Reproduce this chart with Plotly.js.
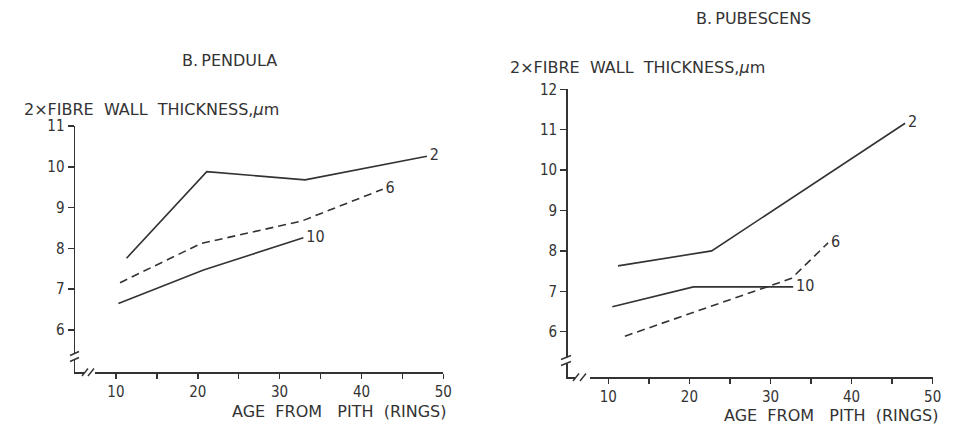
<!DOCTYPE html>
<html>
<head>
<meta charset="utf-8">
<script src="https://cdn.plot.ly/plotly-3.0.1.min.js"></script>
<style>html,body{margin:0;padding:0;background:#fff;}#chart{width:960px;height:426px;}</style>
</head>
<body>
<div id="chart"></div>
<script>
// ---- Data ----
const pendulaAge2 = [11.3, 21.1, 33.1, 48.0];
const pendulaWall2 = [7.76, 9.88, 9.68, 10.26];
const pendulaAge6 = [10.5, 20.4, 32.7, 42.6];
const pendulaWall6 = [7.16, 8.12, 8.67, 9.45];
const pendulaAge10 = [10.3, 20.7, 32.9];
const pendulaWall10 = [6.65, 7.47, 8.26];

const pubescensAge2 = [11.2, 22.75, 46.6];
const pubescensWall2 = [7.63, 8.0, 11.16];
const pubescensAge6 = [12.05, 32.6, 37.1];
const pubescensWall6 = [5.89, 7.32, 8.2];
const pubescensAge10 = [10.5, 20.5, 32.8];
const pubescensWall10 = [6.62, 7.11, 7.11];

const seriesLabels = ['2', '6', '10'];
const xTickVals = [10, 15, 20, 25, 30, 35, 40, 45, 50];
const xTickText = ['10', '', '20', '', '30', '', '40', '', '50'];
const yTickValsLeft = [6, 7, 8, 9, 10, 11];
const yTickValsRight = [6, 7, 8, 9, 10, 11, 12];

const panelTitles = ['B.\u2009PENDULA', 'B.\u2009PUBESCENS'];
const yTitle = '2\u00d7FIBRE\u00a0 WALL\u00a0 THICKNESS,<i>\u03bc</i>m';
const xTitle = 'AGE\u00a0 FROM\u00a0\u00a0 PITH\u00a0 (RINGS)';

// ---- Styling ----
const INK = '#333333';
const FONT = 'DejaVu Sans, Liberation Sans, sans-serif';
const TICKFONT = 'DejaVu Sans Condensed, DejaVu Sans, sans-serif';
const W = 960, H = 426;
const px = v => v / W;
const py = v => 1 - v / H;

function endLabel(n, lab) {
  const t = new Array(n).fill('');
  t[n - 1] = '\u2009' + lab;
  return t;
}
function trace(x, y, lab, dashed, xa, ya) {
  return {
    x: x, y: y, xaxis: xa, yaxis: ya,
    type: 'scatter', mode: 'lines+text',
    text: endLabel(x.length, lab),
    textposition: 'middle right',
    textfont: {family: TICKFONT, size: 16, color: INK},
    line: {color: INK, width: 1.6, dash: dashed ? '8px,5px' : 'solid'},
    cliponaxis: false,
    hoverinfo: 'skip', showlegend: false
  };
}

const data = [
  trace(pendulaAge2, pendulaWall2, seriesLabels[0], false, 'x', 'y'),
  trace(pendulaAge6, pendulaWall6, seriesLabels[1], true, 'x', 'y'),
  trace(pendulaAge10, pendulaWall10, seriesLabels[2], false, 'x', 'y'),
  trace(pubescensAge2, pubescensWall2, seriesLabels[0], false, 'x2', 'y2'),
  trace(pubescensAge6, pubescensWall6, seriesLabels[1], true, 'x2', 'y2'),
  trace(pubescensAge10, pubescensWall10, seriesLabels[2], false, 'x2', 'y2')
];

function xAxis(domain, anchor) {
  return {
    domain: domain, anchor: anchor, range: [5, 50],
    tickvals: xTickVals, ticktext: xTickText,
    ticks: 'outside', ticklen: 5, tickwidth: 1.5, tickcolor: INK,
    showline: true, linecolor: INK, linewidth: 1.5,
    showgrid: false, zeroline: false,
    tickfont: {family: TICKFONT, size: 15, color: INK}
  };
}
function yAxis(domain, anchor, range, vals) {
  return {
    domain: domain, anchor: anchor, range: range,
    tickvals: vals,
    ticks: 'outside', ticklen: 6, tickwidth: 1.5, tickcolor: INK,
    showline: true, linecolor: INK, linewidth: 1.5,
    showgrid: false, zeroline: false,
    tickfont: {family: TICKFONT, size: 15, color: INK}
  };
}

// axis-break decorations (paper coordinates)
function rect(x0, y0, x1, y1) {
  return {type: 'rect', xref: 'paper', yref: 'paper', layer: 'above',
    x0: px(x0), x1: px(x1), y0: py(y0), y1: py(y1),
    fillcolor: '#ffffff', line: {width: 0}};
}
function seg(x0, y0, x1, y1) {
  return {type: 'line', xref: 'paper', yref: 'paper', layer: 'above',
    x0: px(x0), x1: px(x1), y0: py(y0), y1: py(y1),
    line: {color: INK, width: 1.4}};
}
const shapes = [
  // left panel y break
  rect(69, 353.5, 80, 359.5),
  seg(70, 355.5, 79, 351.5), seg(70, 361.5, 79, 357.5),
  // left panel x break
  rect(84, 368, 95, 376),
  seg(82, 376, 88, 368.5), seg(88, 376, 94, 368.5),
  // right panel y break
  rect(560, 357.5, 572, 363.5),
  seg(561, 359.5, 571, 355.5), seg(561, 365.5, 571, 361.5),
  // right panel x break
  rect(575, 373, 590, 381),
  seg(573, 381, 579, 373.5), seg(580, 381, 586, 373.5)
];

function ann(text, x, y, xanchor, size) {
  return {text: text, xref: 'paper', yref: 'paper', x: px(x), y: py(y),
    xanchor: xanchor, yanchor: 'middle', showarrow: false,
    font: {family: FONT, size: size, color: INK}};
}
const annotations = [
  ann(panelTitles[0], 229, 60, 'center', 16),
  ann(panelTitles[1], 753, 19, 'center', 16),
  ann(yTitle, 22, 109, 'left', 16),
  ann(yTitle, 508, 68, 'left', 16),
  ann(xTitle, 449, 411, 'right', 16),
  ann(xTitle, 941, 415, 'right', 16)
];

const layout = {
  width: W, height: H,
  margin: {l: 0, r: 0, t: 0, b: 0},
  paper_bgcolor: '#ffffff', plot_bgcolor: '#ffffff',
  showlegend: false,
  xaxis: xAxis([px(75), px(443.3)], 'y'),
  yaxis: yAxis([py(372), py(126)], 'x', [4.97, 11], yTickValsLeft),
  xaxis2: xAxis([px(567.7), px(932.7)], 'y2'),
  yaxis2: yAxis([py(377), py(89.3)], 'x2', [4.879, 12], yTickValsRight),
  shapes: shapes,
  annotations: annotations
};

Plotly.newPlot('chart', data, layout, {displayModeBar: false, staticPlot: true});
</script>
</body>
</html>
